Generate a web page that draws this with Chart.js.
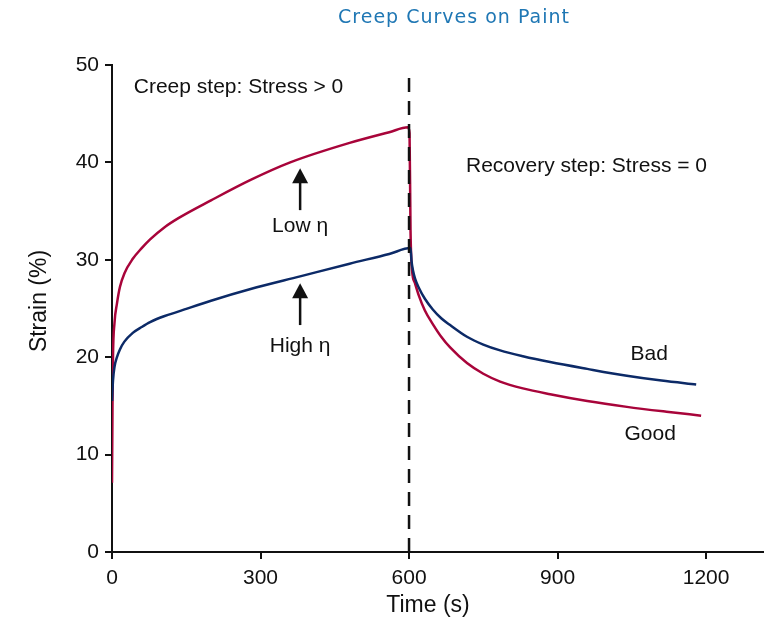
<!DOCTYPE html>
<html>
<head>
<meta charset="utf-8">
<script src="https://cdn.jsdelivr.net/npm/chart.js@4.4.1/dist/chart.umd.min.js"></script>
<style>
  html, body { margin: 0; padding: 0; background: #fff; }
</style>
</head>
<body>
<canvas id="chart" width="764" height="622"></canvas>
<script>
// Creep then recovery (time s, strain %)
const lowTime   = [0, 1, 2, 5, 10, 16, 25, 42, 60, 77, 105, 135, 200, 280, 360, 480, 560, 598, 601, 603, 606, 612, 620, 632, 648, 665, 683, 717, 750, 784, 830, 885, 960, 1040, 1120, 1190];
const lowStrain = [7.1, 15, 20, 23.5, 25.5, 27.2, 28.6, 30.1, 31.2, 32.1, 33.3, 34.3, 36.1, 38.2, 40.0, 42.0, 43.1, 43.6, 43.0, 33.0, 29.0, 27.6, 26.3, 24.8, 23.4, 22.1, 21.0, 19.4, 18.3, 17.5, 16.8, 16.2, 15.5, 14.9, 14.4, 14.0];

const highTime   = [0, 2, 5, 10, 16, 25, 42, 60, 77, 105, 135, 200, 280, 380, 480, 560, 603, 605, 608, 612, 620, 632, 648, 665, 683, 717, 750, 784, 830, 885, 960, 1040, 1110, 1180];
const highStrain = [15.5, 17.6, 19.0, 20.0, 20.8, 21.6, 22.5, 23.1, 23.6, 24.2, 24.7, 25.8, 27.0, 28.3, 29.6, 30.6, 31.2, 29.9, 28.9, 28.1, 27.1, 26.0, 24.9, 24.0, 23.3, 22.1, 21.3, 20.7, 20.1, 19.5, 18.8, 18.1, 17.6, 17.2];

// step change marker
const stepTime   = [600, 600];
const stepStrain = [0, 49.3];

const xTicks = [0, 300, 600, 900, 1200];
const yTicks = [0, 10, 20, 30, 40, 50];

const RED = "#a8043a";
const BLUE = "#0c2a67";
const FONT = "Arial, 'Liberation Sans', Helvetica, sans-serif";

const toPoints = (xs, ys) => xs.map((x, i) => ({ x, y: ys[i] }));

// text labels in data units
const notes = [
  { text: "Creep step: Stress > 0", x: 44, y: 47.7, align: "left" },
  { text: "Recovery step: Stress = 0", x: 715, y: 39.6, align: "left" },
  { text: "Low \u03b7", x: 380, y: 33.5, align: "center" },
  { text: "High \u03b7", x: 380, y: 21.1, align: "center" },
  { text: "Bad", x: 1085, y: 20.3, align: "center" },
  { text: "Good", x: 1087, y: 12.1, align: "center" }
];
const arrows = [
  { x: 380, from: 35.1, to: 39.4 },
  { x: 380, from: 23.3, to: 27.6 }
];

const decorPlugin = {
  id: "decor",
  afterDatasetsDraw(chart){
    const { ctx, scales: { x, y } } = chart;
    ctx.save();
    ctx.fillStyle = "#111";
    ctx.strokeStyle = "#111";
    ctx.font = "21px " + FONT;
    ctx.textBaseline = "middle";
    notes.forEach(n => {
      ctx.textAlign = n.align;
      ctx.fillText(n.text, x.getPixelForValue(n.x), y.getPixelForValue(n.y));
    });

    arrows.forEach(a => {
      const px = x.getPixelForValue(a.x);
      const y0 = y.getPixelForValue(a.from), y1 = y.getPixelForValue(a.to);
      ctx.lineWidth = 2.5;
      ctx.beginPath();
      ctx.moveTo(px, y0);
      ctx.lineTo(px, y1 + 10);
      ctx.stroke();
      ctx.beginPath();
      ctx.moveTo(px, y1);
      ctx.lineTo(px - 8, y1 + 15);
      ctx.lineTo(px + 8, y1 + 15);
      ctx.closePath();
      ctx.fill();
    });

    // axis titles
    ctx.font = "23px " + FONT;
    ctx.textAlign = "center";
    ctx.fillText("Time (s)", 428, 606);
    ctx.save();
    ctx.translate(40, 301);
    ctx.rotate(-Math.PI / 2);
    ctx.fillText("Strain (%)", 0, 0);
    ctx.restore();

    // chart title
    ctx.font = "19px 'DejaVu Sans', sans-serif";
    ctx.letterSpacing = "1px";
    ctx.fillStyle = "#1f77b4";
    ctx.fillText("Creep Curves on Paint", 454, 18);
    ctx.restore();
  }
};

const axisCommon = {
  grid: { drawOnChartArea: false, drawTicks: true, tickLength: 7, color: "#111", lineWidth: 2 },
  border: { display: true, color: "#111", width: 2 },
  ticks: { color: "#111", font: { family: FONT, size: 21 }, callback: v => String(v) }
};

new Chart(document.getElementById("chart").getContext("2d"), {
  type: "line",
  data: {
    datasets: [
      { label: "step", data: toPoints(stepTime, stepStrain), borderColor: "#111", borderWidth: 2.5,
        borderDash: [14, 9], pointRadius: 0, order: 0 },
      { label: "Low \u03b7 (Good)", data: toPoints(lowTime, lowStrain), borderColor: RED, borderWidth: 2.5,
        pointRadius: 0, cubicInterpolationMode: "monotone", order: 2 },
      { label: "High \u03b7 (Bad)", data: toPoints(highTime, highStrain), borderColor: BLUE, borderWidth: 2.5,
        pointRadius: 0, cubicInterpolationMode: "monotone", order: 1 }
    ]
  },
  options: {
    responsive: false,
    animation: false,
    devicePixelRatio: 1,
    layout: { padding: { top: 65, right: 0, bottom: 0, left: 0 } },
    plugins: { legend: { display: false }, tooltip: { enabled: false }, title: { display: false } },
    scales: {
      x: {
        ...axisCommon,
        type: "linear",
        min: 0, max: 1317,
        afterFit: s => { s.height = 70; },
        afterBuildTicks: s => { s.ticks = xTicks.map(v => ({ value: v })); },
        ticks: { ...axisCommon.ticks, padding: 7, includeBounds: false }
      },
      y: {
        ...axisCommon,
        min: 0, max: 50,
        afterFit: s => { s.width = 112; },
        afterBuildTicks: s => { s.ticks = yTicks.map(v => ({ value: v })); },
        ticks: { ...axisCommon.ticks, padding: 6 }
      }
    }
  },
  plugins: [decorPlugin]
});
</script>
</body>
</html>
